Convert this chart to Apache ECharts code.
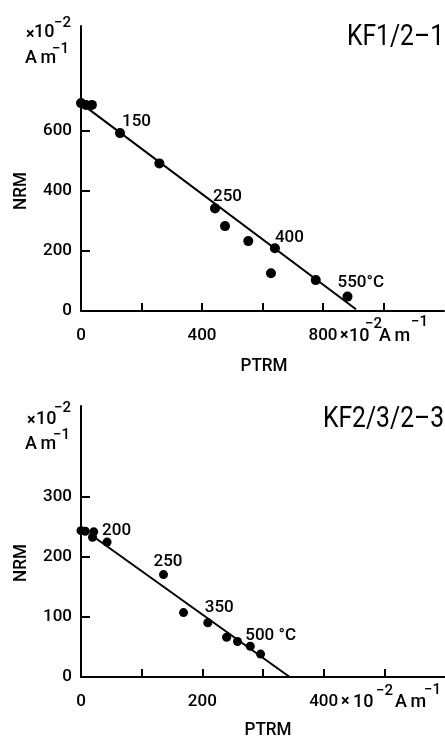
<!DOCTYPE html>
<html><head><meta charset="utf-8">
<script src="https://cdn.jsdelivr.net/npm/echarts@6/dist/echarts.min.js"></script>
<style>html,body{margin:0;padding:0;background:#fff}#c{width:445px;height:738px}</style>
</head><body><div id="c"></div>
<script>
// ---- data: upper panel (KF1/2-1) ----
const topTitle = 'KF1/2\u20131';
const topPTRM = [0, 16, 36, 129, 259, 443, 476, 553, 641, 628, 776, 881];
const topNRM  = [693, 687, 687, 593, 492, 342, 283, 233, 209, 126, 103, 48];
const topTemps = ['', '', '', '150', '', '250', '', '', '400', '', '', '550\u00b0C'];
const topFitX = [0, 909];
const topFitY = [692, 6];
const topXTicks = [0, 200, 400, 600, 800, 1000];
const topXLabels = [0, 400, 800];
const topYTicks = [0, 200, 400, 600];

// ---- data: lower panel (KF2/3/2-3) ----
const botTitle = 'KF2/3/2\u20133';
const botPTRM = [0, 7, 21, 19, 43, 136, 169, 209, 240, 258, 279, 296];
const botNRM  = [243, 242, 241, 232, 224, 170, 107, 90, 66, 59, 51, 38];
const botTemps = ['', '', '', '', '200', '250', '', '350', '', '', '500 \u00b0C', ''];
const botFitX = [18, 344];
const botFitY = [235, 0];
const botXTicks = [0, 100, 200, 300, 400, 500];
const botXLabels = [0, 200, 400];
const botYTicks = [0, 100, 200, 300];

// ---- styling (not data) ----
const FONT = "Roboto, 'Liberation Sans', Arial, sans-serif";
const FW = 500;
const INK = '#000';
const topLabelOff = {3: [2, -11.5], 5: [-2, -12], 8: [0, -11], 11: [-10, -14]};
const botLabelOff = {4: [-5, -11], 5: [-10, -13], 7: [-3, -15], 10: [-5, -11]};

function scatterData(xs, ys, temps, offs, size) {
  const h = size / 2;
  return xs.map((x, i) => {
    const item = {value: [x, ys[i]]};
    if (temps[i]) {
      const o = offs[i] || [0, -10];
      item.label = {show: true, formatter: temps[i], position: [o[0] + h, o[1] + h],
        align: 'left', verticalAlign: 'middle', fontSize: 17, fontWeight: FW, fontFamily: FONT, color: INK};
    }
    return item;
  });
}

function xAxisCfg(gi, max, ticks, labels) {
  return {
    gridIndex: gi, type: 'value', min: 0, max: max,
    axisLine: {show: true, lineStyle: {color: INK, width: 2}},
    axisTick: {show: true, inside: true, length: 8, lineStyle: {color: INK, width: 2}, customValues: ticks},
    axisLabel: {show: true, customValues: labels, fontSize: 17, fontWeight: FW, fontFamily: FONT, color: INK, margin: 16},
    splitLine: {show: false}
  };
}
function yAxisCfg(gi, max, ticks) {
  return {
    gridIndex: gi, type: 'value', min: 0, max: max,
    axisLine: {show: true, lineStyle: {color: INK, width: 2}},
    axisTick: {show: true, inside: true, length: 9, lineStyle: {color: INK, width: 2}, customValues: ticks},
    axisLabel: {show: true, customValues: ticks, fontSize: 17, fontWeight: FW, fontFamily: FONT, color: INK, margin: 9},
    splitLine: {show: false}
  };
}

function txt(x, y, text, size, align, rot, weight, sx) {
  return {type: 'text', x: x, y: y, rotation: rot || 0, scaleX: sx || 1,
    style: {text: text, fontSize: size, fontWeight: weight || FW, fontFamily: FONT, fill: INK,
      align: align || 'left', verticalAlign: 'middle'}};
}

const chart = echarts.init(document.getElementById('c'), null, {renderer: 'canvas'});
chart.setOption({
  animation: false,
  backgroundColor: '#fff',
  grid: [
    {left: 81, top: 26, width: 363, height: 285, containLabel: false},
    {left: 81, top: 406, width: 364, height: 271, containLabel: false}
  ],
  xAxis: [xAxisCfg(0, 1200, topXTicks, topXLabels), xAxisCfg(1, 600, botXTicks, botXLabels)],
  yAxis: [yAxisCfg(0, 950, topYTicks), yAxisCfg(1, 450, botYTicks)],
  series: [
    {type: 'line', xAxisIndex: 0, yAxisIndex: 0, symbol: 'none', silent: true,
      data: topFitX.map((x, i) => [x, topFitY[i]]), lineStyle: {color: INK, width: 2}, z: 2},
    {type: 'scatter', xAxisIndex: 0, yAxisIndex: 0, symbolSize: 10, itemStyle: {color: INK, opacity: 1},
      data: scatterData(topPTRM, topNRM, topTemps, topLabelOff, 10), z: 3},
    {type: 'line', xAxisIndex: 1, yAxisIndex: 1, symbol: 'none', silent: true,
      data: botFitX.map((x, i) => [x, botFitY[i]]), lineStyle: {color: INK, width: 2}, z: 2},
    {type: 'scatter', xAxisIndex: 1, yAxisIndex: 1, symbolSize: 9, itemStyle: {color: INK, opacity: 1},
      data: scatterData(botPTRM, botNRM, botTemps, botLabelOff, 9), z: 3}
  ],
  graphic: [
    // titles
    txt(444, 38, topTitle, 29, 'right', 0, 400, 0.85),
    txt(323, 420, botTitle, 29, 'left', 0, 400, 0.85),
    // axis names
    txt(21, 191, 'NRM', 19, 'center', Math.PI / 2, FW, 0.9),
    txt(264, 366, 'PTRM', 19, 'center', 0, FW, 0.9),
    txt(21, 563, 'NRM', 19, 'center', Math.PI / 2, FW, 0.9),
    txt(268, 730, 'PTRM', 19, 'center', 0, FW, 0.9),
    // upper y unit
    txt(26, 35, '\u00d7', 16, 'left', 0, 700), txt(34, 32.5, '10', 18), txt(54, 23, '\u22122', 15),
    txt(25, 58, 'A\u2009m', 18), txt(52, 49, '\u22121', 15),
    // upper x unit (after 800)
    txt(340, 336, '\u00d7', 16, 'left', 0, 700), txt(349, 336, '10', 18), txt(365, 324, '\u22122', 15),
    txt(379, 336, 'A\u2009m', 18), txt(411, 322, '\u22121', 15),
    // lower y unit
    txt(27, 421, '\u00d7', 16, 'left', 0, 700), txt(36, 419, '10', 18), txt(54, 408, '\u22122', 15),
    txt(25, 444, 'A\u2009m', 18), txt(53, 435, '\u22121', 15),
    // lower x unit (after 400)
    txt(341, 702, '\u00d7', 16, 'left', 0, 700), txt(353, 702, '10', 18), txt(376, 691, '\u22122', 15),
    txt(395, 702, 'A\u2009m', 18), txt(424, 690, '\u22121', 15)
  ]
});
</script>
</body></html>
